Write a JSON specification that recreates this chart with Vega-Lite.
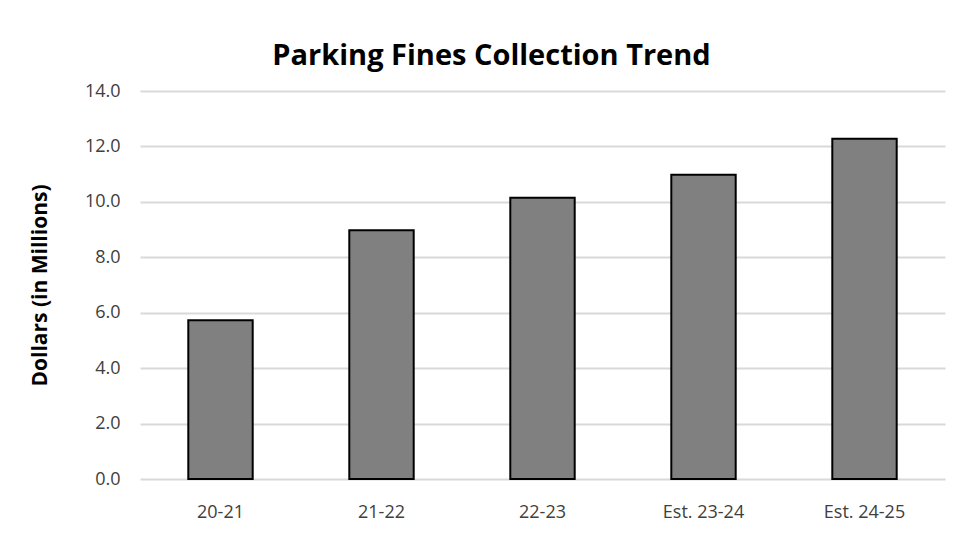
{
  "$schema": "https://vega.github.io/schema/vega-lite/v6.json",
  "autosize": {"type": "none"},
  "width": 805,
  "height": 388,
  "padding": {"left": 140, "top": 91, "right": 26, "bottom": 73},
  "background": "white",
  "title": {
    "text": "Parking Fines Collection Trend",
    "font": "Open Sans",
    "fontSize": 29,
    "fontWeight": "bold",
    "color": "#000000",
    "anchor": "middle",
    "dx": -51,
    "offset": 11
  },
  "data": {
    "values": [
      {"year": "20-21", "dollars": 5.73},
      {"year": "21-22", "dollars": 8.98},
      {"year": "22-23", "dollars": 10.15},
      {"year": "Est. 23-24", "dollars": 10.98},
      {"year": "Est. 24-25", "dollars": 12.28}
    ]
  },
  "mark": {"type": "bar", "fill": "#808080", "stroke": "#000000", "strokeWidth": 2},
  "encoding": {
    "x": {
      "field": "year",
      "type": "nominal",
      "sort": null,
      "scale": {"paddingInner": 0.6, "paddingOuter": 0.3},
      "axis": {
        "title": null,
        "labelAngle": 0,
        "domain": false,
        "ticks": false,
        "labelPadding": 24,
        "labelFont": "Open Sans",
        "labelFontSize": 18,
        "labelColor": "#404040"
      }
    },
    "y": {
      "field": "dollars",
      "type": "quantitative",
      "scale": {"domain": [0, 14]},
      "axis": {
        "title": "Dollars (in Millions)",
        "titleFont": "Open Sans",
        "titleFontSize": 21,
        "titleFontWeight": "bold",
        "titleColor": "#000000",
        "titleAngle": 270,
        "titleX": -100,
        "titleY": 194,
        "titleAlign": "center",
        "titleBaseline": "middle",
        "values": [0, 2, 4, 6, 8, 10, 12, 14],
        "format": ".1f",
        "domain": false,
        "ticks": false,
        "labelPadding": 20,
        "labelFont": "Open Sans",
        "labelFontSize": 18,
        "labelColor": "#404040",
        "gridColor": "#d9d9d9",
        "gridWidth": 2
      }
    }
  },
  "config": {"view": {"stroke": null}}
}
